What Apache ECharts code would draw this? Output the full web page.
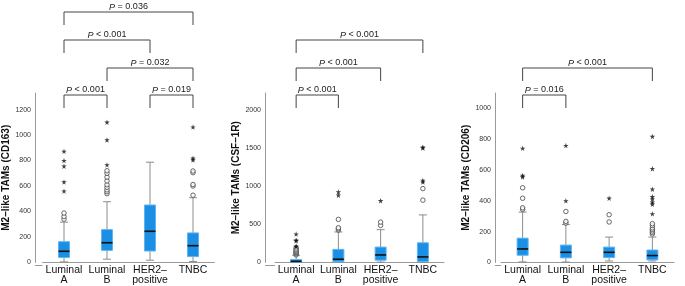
<!DOCTYPE html>
<html>
<head>
<meta charset="utf-8">
<script src="https://cdn.jsdelivr.net/npm/echarts@6/dist/echarts.min.js"></script>
<style>
  html, body { margin: 0; padding: 0; background: #fff; }
  #chart { width: 685px; height: 286px; }
</style>
</head>
<body>
<div id="chart"></div>
<script>
// categories shared by the three panels
var categories = ['Luminal\nA', 'Luminal\nB', 'HER2–\npositive', 'TNBC'];
var axisNames = ['M2–like TAMs (CD163)', 'M2–like TAMs (CSF–1R)', 'M2–like TAMs (CD206)'];

// box stats: [category, min, q1, median, q3, max]
var cd163Box = [[0, 5, 39, 88, 163, 317], [1, 26, 95, 155, 258, 477], [2, 18, 90, 245, 451, 787], [3, 8, 46, 132, 232, 508]];
var cd163Circles = [[0, 340], [0, 360], [0, 388], [1, 540], [1, 555], [1, 570], [1, 590], [1, 610], [1, 640], [1, 670], [1, 700], [1, 720],
    [3, 528], [3, 600], [3, 612], [3, 705], [3, 718]];
var cd163Stars = [[0, 560], [0, 632], [0, 756], [0, 800], [0, 872], [1, 766], [1, 962], [1, 1101], [3, 805], [3, 818], [3, 1063]];

var csf1rBox = [[0, 0, 5, 15, 40, 95], [1, 0, 9, 43, 172, 400], [2, 5, 30, 99, 202, 430], [3, 0, 13, 73, 258, 623]];
var csf1rCircles = [[0, 100], [0, 115], [0, 125], [0, 135], [0, 145], [0, 160], [0, 175], [0, 190],
    [1, 425], [1, 440], [1, 455], [1, 565], [2, 486], [2, 529], [3, 817], [3, 968]];
var csf1rStars = [[0, 205], [0, 215], [0, 285], [0, 292], [0, 372], [1, 882], [1, 925], [2, 809], [3, 1054], [3, 1075], [3, 1500], [3, 1510]];

var cd206Box = [[0, 4, 47, 88, 158, 327], [1, 3, 30, 66, 113, 246], [2, 10, 32, 66, 100, 165], [3, 10, 17, 45, 81, 165]];
var cd206Circles = [[0, 345], [0, 355], [0, 417], [0, 485], [1, 256], [1, 267], [1, 331], [2, 263], [2, 310],
    [3, 185], [3, 195], [3, 205], [3, 215], [3, 225], [3, 240], [3, 252]];
var cd206Stars = [[0, 555], [0, 565], [0, 741], [1, 400], [1, 759], [2, 417], [3, 316], [3, 378], [3, 391], [3, 412], [3, 427],
    [3, 476], [3, 609], [3, 818]];

// y axis ranges
var yMax = [1330, 2220, 1100];
var yStep = [200, 500, 200];

// brackets: [panel, fromCat, toCat, level, label]
var brackets = [
    [0, 0, 1, 0, '< 0.001'], [0, 2, 3, 0, '= 0.019'], [0, 1, 3, 1, '= 0.032'], [0, 0, 2, 2, '< 0.001'], [0, 0, 3, 3, '= 0.036'],
    [1, 0, 1, 0, '< 0.001'], [1, 0, 2, 1, '< 0.001'], [1, 0, 3, 2, '< 0.001'],
    [2, 0, 1, 0, '= 0.016'], [2, 0, 3, 1, '< 0.001']
];

var boxes = [cd163Box, csf1rBox, cd206Box];
var circles = [cd163Circles, csf1rCircles, cd206Circles];
var stars = [cd163Stars, csf1rStars, cd206Stars];

// layout
var grids = [{left: 42.5, width: 172}, {left: 275, width: 169}, {left: 501, width: 173}];
var axisX = [35, 265, 495];
var plotTop = 93, plotBottom = 265;
var levelY = [95, 68, 40, 12];
var font = "'Liberation Sans', Arial, sans-serif";
var starPath = 'path://M50,0 L61,35 L98,35 L68,57 L79,91 L50,70 L21,91 L32,57 L2,35 L39,35 Z';

var chart = echarts.init(document.getElementById('chart'));

function renderBox(params, api) {
    var x = api.value(0);
    var lo = api.coord([x, api.value(1)]);
    var q1 = api.coord([x, api.value(2)]);
    var md = api.coord([x, api.value(3)]);
    var q3 = api.coord([x, api.value(4)]);
    var hi = api.coord([x, api.value(5)]);
    var cx = lo[0], w = 11, cap = 4;
    var grey = {stroke: '#8c8c8c', lineWidth: 1};
    return {
        type: 'group',
        children: [
            {type: 'line', shape: {x1: cx, y1: hi[1], x2: cx, y2: q3[1]}, style: grey},
            {type: 'line', shape: {x1: cx, y1: q1[1], x2: cx, y2: lo[1]}, style: grey},
            {type: 'line', shape: {x1: cx - cap, y1: hi[1], x2: cx + cap, y2: hi[1]}, style: grey},
            {type: 'line', shape: {x1: cx - cap, y1: lo[1], x2: cx + cap, y2: lo[1]}, style: grey},
            {type: 'rect', shape: {x: cx - w / 2, y: q3[1], width: w, height: q1[1] - q3[1]},
                style: {fill: '#1a8fe3', stroke: '#5fb4f2', lineWidth: 1}},
            {type: 'line', shape: {x1: cx - w / 2, y1: md[1], x2: cx + w / 2, y2: md[1]},
                style: {stroke: '#111', lineWidth: 1.6}}
        ]
    };
}

var option = {
    animation: false,
    grid: [], xAxis: [], yAxis: [], series: []
};

for (var p = 0; p < 3; p++) {
    option.grid.push({left: grids[p].left, width: grids[p].width, top: plotTop, bottom: 286 - plotBottom});
    option.xAxis.push({
        type: 'category', gridIndex: p, data: categories,
        axisLine: {lineStyle: {color: '#9a9a9a'}},
        axisTick: {show: false},
        axisLabel: {color: '#111', fontFamily: font, fontSize: 10.5, lineHeight: 10, margin: 3, interval: 0}
    });
    option.yAxis.push({
        type: 'value', gridIndex: p, min: 0, max: yMax[p], interval: yStep[p],
        offset: grids[p].left - axisX[p],
        name: axisNames[p], nameLocation: 'middle', nameRotate: 90, nameGap: 19,
        nameTextStyle: {fontFamily: font, fontSize: 10, fontWeight: 'bold', color: '#111'},
        axisLine: {show: true, lineStyle: {color: '#9a9a9a'}},
        axisTick: {show: false},
        splitLine: {show: false},
        axisLabel: {color: '#333', fontFamily: font, fontSize: 7, margin: 4, showMaxLabel: false,
            formatter: function (v) { return String(v); }}
    });
    option.series.push({
        type: 'custom', xAxisIndex: p, yAxisIndex: p, data: boxes[p],
        encode: {x: 0, y: [1, 2, 3, 4, 5]}, renderItem: renderBox, z: 2
    });
    option.series.push({
        type: 'scatter', xAxisIndex: p, yAxisIndex: p, data: circles[p],
        symbol: 'circle', symbolSize: 4.5, z: 3,
        itemStyle: {color: '#fff', borderColor: '#444', borderWidth: 1}
    });
    option.series.push({
        type: 'scatter', xAxisIndex: p, yAxisIndex: p, data: stars[p],
        symbol: starPath, symbolSize: 5.5, z: 4,
        itemStyle: {color: '#111'}
    });
}

chart.setOption(option);

// significance brackets and baseline extension
var graphics = [];
for (var p = 0; p < 3; p++) {
    graphics.push({type: 'line', shape: {x1: axisX[p], y1: plotBottom + 0.5, x2: grids[p].left, y2: plotBottom + 0.5},
        style: {stroke: '#9a9a9a', lineWidth: 1}});
}
brackets.forEach(function (b) {
    var x1 = chart.convertToPixel({xAxisIndex: b[0]}, b[1]);
    var x2 = chart.convertToPixel({xAxisIndex: b[0]}, b[2]);
    var y = levelY[b[3]];
    graphics.push({
        type: 'polyline',
        shape: {points: [[x1, y + 13], [x1, y], [x2, y], [x2, y + 13]]},
        style: {stroke: '#444', lineWidth: 1, fill: null}
    });
    graphics.push({
        type: 'text', x: (x1 + x2) / 2, y: y - 5,
        style: {
            text: '{i|P} ' + b[4], align: 'center', verticalAlign: 'middle',
            fontFamily: font, fontSize: 9, fill: '#222',
            rich: {i: {fontStyle: 'italic', fontFamily: font, fontSize: 9, fill: '#222'}}
        }
    });
});
chart.setOption({graphic: graphics});
</script>
</body>
</html>
